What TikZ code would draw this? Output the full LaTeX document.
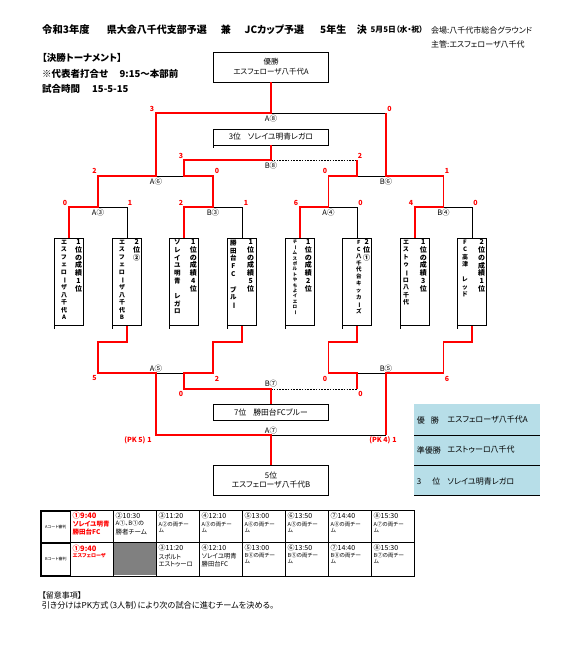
\documentclass[tikz,border=0pt]{standalone}
\usepackage{fontspec}
\setmainfont{Noto Sans CJK JP}[RawFeature={+palt}]
\usepackage{graphicx}
\definecolor{legendblue}{RGB}{183,222,232}
\definecolor{cellgray}{RGB}{128,128,128}
\newcommand{\fs}[1]{\fontsize{#1}{#1}\selectfont}
\newcommand{\vbar}{\rotatebox[origin=c]{-90}{ー}}
\begin{document}
\begin{tikzpicture}[x=1pt,y=-1pt,
  rl/.style={draw=red, line width=1.8pt, line join=miter},
  bl/.style={draw=black, line width=0.7pt},
  dl/.style={draw=black, line width=0.7pt, dash pattern=on 1.6pt off 1.2pt},
  sc/.style={text=red, font=\bfseries\fs{7}, inner sep=0},
  ml/.style={font=\fs{7.5}, inner sep=0},
  tbx/.style={draw, line width=0.7pt, minimum width=29pt, minimum height=87.4pt, inner sep=0},
  rbx/.style={draw, line width=0.7pt, minimum width=115pt, inner sep=0, align=center},
  vr/.style={anchor=north, align=center, inner sep=0, font=\bfseries\fontsize{7}{7.9}\selectfont},
  vl/.style={anchor=north, align=center, inner sep=0},
  hd/.style={anchor=west, inner sep=0},
  ctime/.style={anchor=west, inner sep=0, font=\fs{7}},
  csm/.style={anchor=west, inner sep=0, font=\fs{5.5}},
  cmd/.style={anchor=west, inner sep=0, font=\fs{6.3}},
  cred/.style={anchor=west, inner sep=0, text=red, font=\bfseries\fs{6.5}},
  lg/.style={anchor=west, inner sep=0, font=\fs{8}},
]
\fill[white] (0,0) rectangle (576,664);
\useasboundingbox (0,0) rectangle (576,664);

% ---------- header ----------
\node[hd, font=\bfseries\fs{10.3}] (ti1) at (42,30) {令和3年度};
\node[hd, font=\bfseries\fs{10}] (ti2) at (106.6,30) {県大会八千代支部予選};
\node[hd, font=\bfseries\fs{10}] (ti3) at (220.6,30) {兼};
\node[hd, font=\bfseries\fs{10}] (ti4) at (244.5,30) {JCカップ予選};
\node[hd, font=\bfseries\fs{10}] (ti5) at (320,30) {5年生};
\node[hd, font=\bfseries\fs{10}] (ti6) at (356.6,30) {決};
\node[hd, font=\bfseries\fs{7.8}] (date) at (370.5,30) {5月5日（水・祝）};
\node[hd, font=\fs{8}] (venue) at (431,30) {会場:八千代市総合グラウンド};
\node[hd, font=\fs{8}] (host) at (431,44) {主管:エスフェローザ八千代};
\node[hd, font=\bfseries\fs{9.5}] (h1) at (42,58) {【決勝トーナメント】};
\node[hd, font=\bfseries\fs{9.5}] (h2a) at (42,74) {※代表者打合せ};
\node[hd, font=\bfseries\fs{9.5}] (h2b) at (119.5,74) {9:15～本部前};
\node[hd, font=\bfseries\fs{9.5}] (h3a) at (42,89) {試合時間};
\node[hd, font=\bfseries\fs{9.5}] (h3b) at (92,89) {15-5-15};

% ---------- result boxes ----------
\node[rbx, minimum height=30pt, font=\fontsize{7.5}{10}\selectfont] (champ) at (271,67) {優勝\\エスフェローザ八千代A};
\node[rbx, minimum height=16pt, font=\fs{7.8}] (third) at (271,137) {3位\hspace{7pt}ソレイユ明青レガロ};
\node[rbx, minimum height=15.7pt, font=\fs{7.8}] (seventh) at (271,412) {7位\hspace{7pt}勝田台FCブルー};
\node[rbx, minimum height=29.3pt, font=\fontsize{7.8}{9.4}\selectfont] (fifth) at (271,480.3) {5位\\エスフェローザ八千代B};
\draw[bl] (third.south west) -- ++(0,3);

% ---------- team boxes ----------
\foreach \i/\x in {1/69,2/127,3/184,4/242,5/300,6/357,7/415,8/472}{
  \node[tbx] (t\i) at (\x,282) {};
  \draw[bl] (t\i.south west) -- ++(0,3);
}
\node[vr] (t1r) at (78.5,239) {1\\位\\の\\成\\績\\1\\位};
\node[vr] (t2r) at (136.7,239) {2\\位\\②};
\node[vr] (t3r) at (193.3,239) {1\\位\\の\\成\\績\\4\\位};
\node[vr] (t4r) at (250.7,239) {1\\位\\の\\成\\績\\5\\位};
\node[vr] (t5r) at (308.3,239) {1\\位\\の\\成\\績\\2\\位};
\node[vr] (t6r) at (366.7,239) {2\\位\\①};
\node[vr] (t7r) at (423.3,239) {1\\位\\の\\成\\績\\3\\位};
\node[vr] (t8r) at (481.7,239) {2\\位\\の\\成\\績\\1\\位};

\node[vl, font=\bfseries\fontsize{6}{7.56}\selectfont] (t1l) at (64,239.7) {エ\\ス\\フ\\ェ\\ロ\\\vbar\\ザ\\八\\千\\代\\A};
\node[vl, font=\bfseries\fontsize{6}{7.56}\selectfont] (t2l) at (122,239.7) {エ\\ス\\フ\\ェ\\ロ\\\vbar\\ザ\\八\\千\\代\\B};
\node[vl, font=\bfseries\fontsize{6.5}{7.67}\selectfont] (t3l) at (177.3,239.5) {ソ\\レ\\イ\\ユ\\明\\青\\\mbox{}\\レ\\ガ\\ロ};
\node[vl, font=\bfseries\fontsize{6.5}{7.8}\selectfont] (t4l) at (233.3,239.5) {勝\\田\\台\\F\\C\\\mbox{}\\ブ\\ル\\\vbar};
\node[vl, font=\bfseries\fontsize{4.5}{5.4}\selectfont] (t5l) at (295,240) {チ\\\vbar\\ム\\ス\\ポ\\ル\\ト\\や\\ち\\よ\\イ\\エ\\ロ\\\vbar};
\node[vl, font=\bfseries\fontsize{5.5}{6.9}\selectfont] (t6l) at (358.8,240) {F\\C\\八\\千\\代\\台\\キ\\ッ\\カ\\\vbar\\ズ};
\node[vl, font=\bfseries\fontsize{6}{7.58}\selectfont] (t7l) at (406,239.7) {エ\\ス\\ト\\ゥ\\\vbar\\ロ\\八\\千\\代};
\node[vl, font=\bfseries\fontsize{6}{7.47}\selectfont] (t8l) at (465,239.7) {F\\C\\高\\津\\\mbox{}\\レ\\ッ\\ド};

% ---------- bracket coordinates (upper) ----------
\coordinate (a3L) at (69,207);  \coordinate (a3M) at (98,207);  \coordinate (a3R) at (127,207);
\coordinate (b3L) at (184,207); \coordinate (b3M) at (213,207); \coordinate (b3R) at (242,207);
\coordinate (a4L) at (300,207); \coordinate (a4M) at (328.5,207); \coordinate (a4R) at (357,207);
\coordinate (b4L) at (415,207); \coordinate (b4M) at (443.5,207); \coordinate (b4R) at (472,207);
\coordinate (a6L) at (98,176);  \coordinate (a6M) at (156,176); \coordinate (a6X) at (184,176); \coordinate (a6R) at (213,176);
\coordinate (b6L) at (328.5,176); \coordinate (b6X) at (357,176); \coordinate (b6M) at (386,176); \coordinate (b6R) at (443.5,176);
\coordinate (a8L) at (156,113); \coordinate (a8M) at (271,113); \coordinate (a8R) at (386,113);
\coordinate (b8L) at (184,160); \coordinate (b8M) at (271,160); \coordinate (b8R) at (357,160);
% ---------- bracket coordinates (lower) ----------
\coordinate (d2a) at (127,342); \coordinate (d2b) at (98,342);
\coordinate (d4a) at (242,342); \coordinate (d4b) at (213,342);
\coordinate (d6a) at (357,342); \coordinate (d6b) at (328.5,342);
\coordinate (d8a) at (472,342); \coordinate (d8b) at (443.5,342);
\coordinate (a5L) at (98,373); \coordinate (a5M) at (156,373); \coordinate (a5X) at (184,373); \coordinate (a5R) at (213,373);
\coordinate (b5L) at (328.5,373); \coordinate (b5X) at (357,373); \coordinate (b5M) at (386,373); \coordinate (b5R) at (443.5,373);
\coordinate (b7L) at (184,389); \coordinate (b7M) at (271,389); \coordinate (b7R) at (357,389);
\coordinate (a7L) at (156,435); \coordinate (a7M) at (271,435); \coordinate (a7R) at (386,435);

% black / dashed parts
\draw[bl] (a3M) -- (a3R) -- (t2.north);
\draw[bl] (b3M) -- (b3R) -- (t4.north);
\draw[bl] (a4M) -- (a4R) -- (t6.north);
\draw[bl] (b4M) -- (b4R) -- (t8.north);
\draw[bl] (a6M) -- (a6X);
\draw[bl] (b6X) -- (b6M);
\draw[bl] (a8M) -- (a8R);
\draw[dl] (b8M) -- (b8R);
\draw[bl] (a5M) -- (a5X);
\draw[bl] (b5X) -- (b5M);
\draw[dl] (b7M) -- (b7R);
\draw[bl] (a7M) -- (a7R);

% red winner paths (upper)
\draw[rl] (t1.north) -- (a3L) -- (a3M) -- (a6L) -- (a6M) -- (a8L) -- (a8M) -- (champ.south);
\draw[rl] (t3.north) -- (b3L) -- (b3M) -- (a6R) -- (a6X) -- (b8L) -- (b8M) -- (third.south);
\draw[rl] (t5.north) -- (a4L) -- (a4M) -- (b6L) -- (b6X) -- (b8R);
\draw[rl] (t7.north) -- (b4L) -- (b4M) -- (b6R) -- (b6M) -- (a8R);
% red paths (lower)
\draw[rl] (t2.south) -- (d2a) -- (d2b) -- (a5L) -- (a5M) -- (a7L) -- (a7M) -- (fifth.north);
\draw[rl] (t4.south) -- (d4a) -- (d4b) -- (a5R) -- (a5X) -- (b7L) -- (b7M) -- (seventh.north);
\draw[rl] (t6.south) -- (d6a) -- (d6b) -- (b5L) -- (b5X) -- (b7R);
\draw[rl] (t8.south) -- (d8a) -- (d8b) -- (b5R) -- (b5M) -- (a7R);

% match labels
\node[ml] (lA8) at (271,119) {A⑧};
\node[ml] (lB8) at (271,166) {B⑧};
\node[ml] (lA6) at (156,181.5) {A⑥};
\node[ml] (lB6) at (386,181.5) {B⑥};
\node[ml] (lA3) at (98,212.5) {A③};
\node[ml] (lB3) at (213,212.5) {B③};
\node[ml] (lA4) at (328.5,212.5) {A④};
\node[ml] (lB4) at (443.5,212.5) {B④};
\node[ml] (lA5) at (156,368.5) {A⑤};
\node[ml] (lB5) at (386,368.5) {B⑤};
\node[ml] (lB7) at (271,384) {B⑦};
\node[ml] (lA7) at (271,430.5) {A⑦};

% scores
\node[sc] (s1) at (152,109) {3};
\node[sc] (s2) at (389.5,109) {0};
\node[sc] (s3) at (181,156) {3};
\node[sc] (s4) at (360,156) {2};
\node[sc] (s5) at (94.5,171) {2};
\node[sc] (s6) at (217,171) {0};
\node[sc] (s7) at (325,171) {0};
\node[sc] (s8) at (447,171) {1};
\node[sc] (s9) at (65,203) {0};
\node[sc] (s10) at (130,203) {1};
\node[sc] (s11) at (181,203) {2};
\node[sc] (s12) at (246,203) {1};
\node[sc] (s13) at (296,203) {6};
\node[sc] (s14) at (360.5,203) {0};
\node[sc] (s15) at (411,203) {4};
\node[sc] (s16) at (475.5,203) {0};
\node[sc] (s17) at (94.5,378.5) {5};
\node[sc] (s18) at (217,378.5) {2};
\node[sc] (s19) at (325,378.5) {0};
\node[sc] (s20) at (447,378.5) {6};
\node[sc] (s21) at (181,394) {0};
\node[sc] (s22) at (360.5,394) {0};
\node[sc] (s23) at (138,440) {(PK 5)\hspace{2pt}1};
\node[sc] (s24) at (383,440) {(PK 4)\hspace{2pt}1};

% ---------- legend ----------
\fill[legendblue] (414,404) rectangle (540,495);
\draw[bl] (414,435) -- (540,435);
\draw[bl] (414,465.7) -- (540,465.7);
\draw[bl] (414,495) -- (540,495);
\node[lg] (lg1a) at (416.7,420) {優\hspace{6pt}勝};
\node[lg] (lg1b) at (447.3,420) {エスフェローザ八千代A};
\node[lg] (lg2a) at (416.7,450) {準優勝};
\node[lg] (lg2b) at (447.3,450) {エストゥーロ八千代};
\node[lg] (lg3a) at (416.7,481) {3\hspace{11pt}位};
\node[lg] (lg3b) at (447.3,481) {ソレイユ明青レガロ};

% ---------- schedule table ----------
\fill[cellgray] (113,542.5) rectangle (156,575);
\draw[line width=0.8pt] (40,510) rectangle (414,576);
\draw[line width=0.8pt] (41.5,511.5) rectangle (70,542.5);
\draw[line width=0.8pt] (41.5,543.5) rectangle (70,575);
\draw[bl] (70,542.5) -- (414,542.5);
\foreach \x in {70,113,156,199,242,285,328,371}{ \draw[bl] (\x,510) -- (\x,576); }
\node[font=\fs{4}, inner sep=0] (ca0) at (55.8,527) {Aコート審判};
\node[font=\fs{4}, inner sep=0] (cb0) at (55.8,559) {Bコート審判};

\node[cred, font=\bfseries\fs{7.5}] (ca1a) at (72.5,515.7) {①9:40};
\node[cred] (ca1b) at (72.5,524) {ソレイユ明青};
\node[cred] (ca1c) at (72.5,531.7) {勝田台FC};
\node[cred, font=\bfseries\fs{7.5}] (cb1a) at (72.5,548.3) {①9:40};
\node[cred, font=\bfseries\fs{5}] (cb1b) at (72.5,556) {エスフェローザ};

\node[ctime] (ca2a) at (115.5,515.7) {②10:30};
\node[anchor=west, inner sep=0, font=\fs{6}] (ca2b) at (115.5,523.5) {A①、B①の};
\node[anchor=west, inner sep=0, font=\fs{6.5}] (ca2c) at (115.5,531.7) {勝者チーム};

\node[ctime] (ca3a) at (158.5,515.7) {③11:20};
\node[csm] (ca3b) at (158.5,524.5) {A②の両チー};
\node[csm] (ca3c) at (158.5,530.5) {ム};
\node[ctime] (ca4a) at (201.5,515.7) {④12:10};
\node[csm] (ca4b) at (201.5,524.5) {A③の両チー};
\node[csm] (ca4c) at (201.5,530.5) {ム};
\node[ctime] (ca5a) at (244.5,515.7) {⑤13:00};
\node[csm] (ca5b) at (244.5,524.5) {A⑥の両チー};
\node[csm] (ca5c) at (244.5,530.5) {ム};
\node[ctime] (ca6a) at (287.5,515.7) {⑥13:50};
\node[csm] (ca6b) at (287.5,524.5) {A⑤の両チー};
\node[csm] (ca6c) at (287.5,530.5) {ム};
\node[ctime] (ca7a) at (330.5,515.7) {⑦14:40};
\node[csm] (ca7b) at (330.5,524.5) {A⑧の両チー};
\node[csm] (ca7c) at (330.5,530.5) {ム};
\node[ctime] (ca8a) at (373.5,515.7) {⑧15:30};
\node[csm] (ca8b) at (373.5,524.5) {A⑦の両チー};
\node[csm] (ca8c) at (373.5,530.5) {ム};

\node[ctime] (cb3a) at (158.5,548.3) {③11:20};
\node[cmd] (cb3b) at (158.5,556.5) {スポルト};
\node[cmd] (cb3c) at (158.5,564.3) {エストゥーロ};
\node[ctime] (cb4a) at (201.5,548.3) {④12:10};
\node[cmd] (cb4b) at (201.5,556.5) {ソレイユ明青};
\node[cmd] (cb4c) at (201.5,564.3) {勝田台FC};
\node[ctime] (cb5a) at (244.5,548.3) {⑤13:00};
\node[csm] (cb5b) at (244.5,555.5) {B⑥の両チー};
\node[csm] (cb5c) at (244.5,561.5) {ム};
\node[ctime] (cb6a) at (287.5,548.3) {⑥13:50};
\node[csm] (cb6b) at (287.5,555.5) {B⑤の両チー};
\node[csm] (cb6c) at (287.5,561.5) {ム};
\node[ctime] (cb7a) at (330.5,548.3) {⑦14:40};
\node[csm] (cb7b) at (330.5,555.5) {B⑧の両チー};
\node[csm] (cb7c) at (330.5,561.5) {ム};
\node[ctime] (cb8a) at (373.5,548.3) {⑧15:30};
\node[csm] (cb8b) at (373.5,555.5) {B⑦の両チー};
\node[csm] (cb8c) at (373.5,561.5) {ム};

% ---------- footer ----------
\node[hd, font=\fs{8}] (f1) at (41.7,595) {【留意事項】};
\node[hd, font=\fs{8.2}] (f2) at (41.7,605) {引き分けはPK方式（3人制）により次の試合に進むチームを決める。};
\end{tikzpicture}
\end{document}
